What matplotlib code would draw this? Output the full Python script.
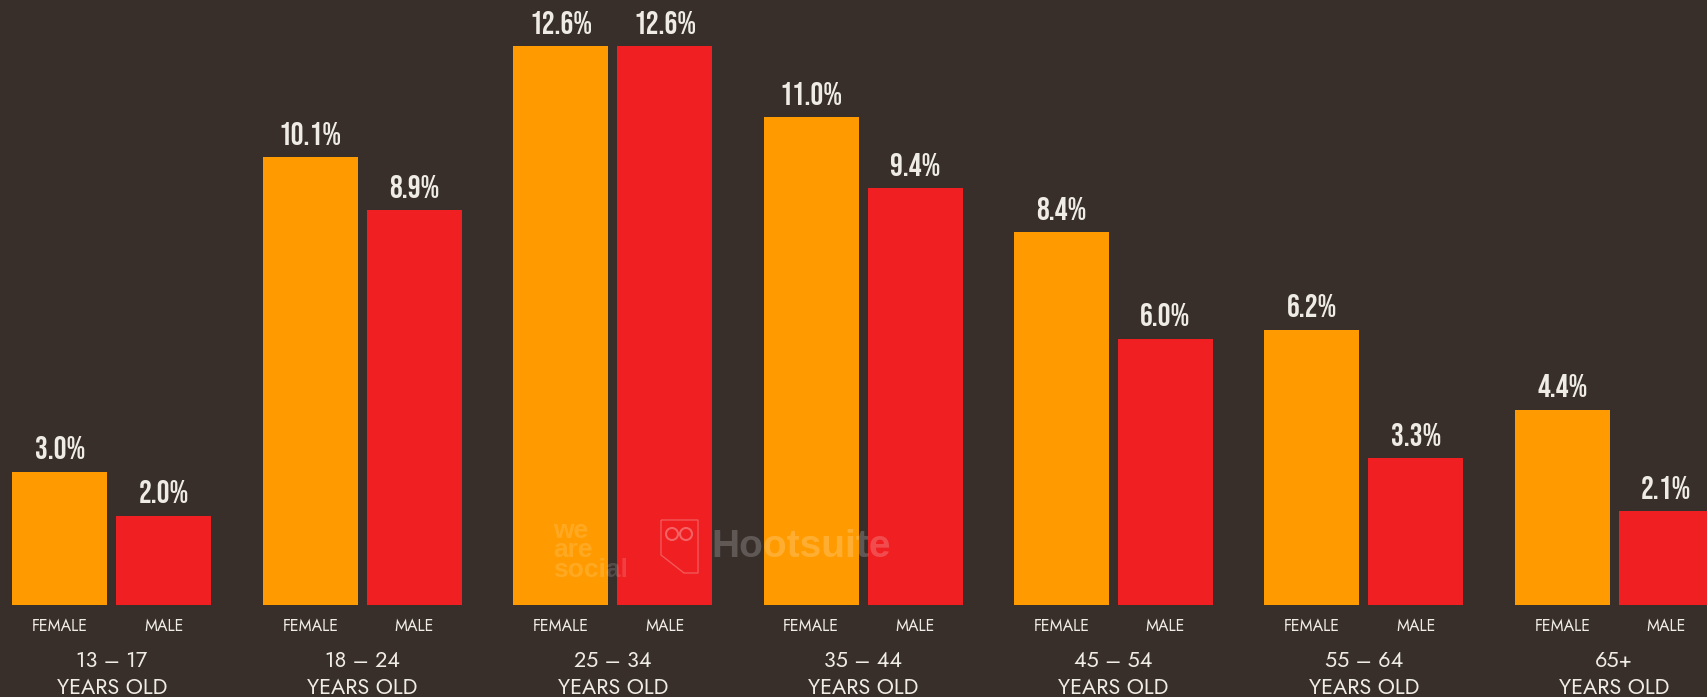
"""Age / gender bar chart on dark background, Hootsuite-style slide."""
import matplotlib
matplotlib.use("Agg")
import matplotlib.pyplot as plt
from matplotlib.patches import Circle, PathPatch
from matplotlib.path import Path
import numpy as np

age_groups = ["13 – 17", "18 – 24", "25 – 34", "35 – 44", "45 – 54", "55 – 64", "65+"]
female = [3.0, 10.1, 12.6, 11.0, 8.4, 6.2, 4.4]
male = [2.0, 8.9, 12.6, 9.4, 6.0, 3.3, 2.1]

BG = "#382f2b"
ORANGE = "#ff9b00"
RED = "#ef1f22"
TXT = "#efebe5"
LABEL_FONT = ["Jost", "Lato", "DejaVu Sans"]
VALUE_FONT = ["Bebas Neue", "Liberation Sans", "DejaVu Sans"]

W, H = 1707, 697
base_px = 604.5      # bar baseline, px from top
px_per_pct = 44.3
step_px = 250.4      # group spacing
first_px = 111.9     # centre of the first group
bar_w = 95 / step_px
off = 52 / step_px

fig = plt.figure(figsize=(W / 100, H / 100), dpi=100, facecolor=BG)
ax = fig.add_axes([0, (H - base_px) / H, 1, base_px / H], facecolor=BG)
x = np.arange(len(age_groups))

bars_f = ax.bar(x - off, female, bar_w, color=ORANGE)
bars_m = ax.bar(x + off, male, bar_w, color=RED)
for bars in (bars_f, bars_m):
    ax.bar_label(bars, fmt="%.1f%%", padding=9, fontsize=23, color=TXT,
                 family=VALUE_FONT, clip_on=False)

ax.set_xlim(-first_px / step_px, (W - first_px) / step_px)
ax.set_ylim(0, base_px / px_per_pct)
ax.set_yticks([])
ax.set_xticks(np.concatenate([x - off, x + off]))
ax.set_xticklabels(["FEMALE"] * len(x) + ["MALE"] * len(x), fontsize=11.5,
                   color=TXT, family=LABEL_FONT)
ax.tick_params(axis="x", length=0, pad=10)
for s in ax.spines.values():
    s.set_visible(False)

for xi, g in zip(x, age_groups):
    ax.annotate(f"{g}\nYEARS OLD", (xi, 0), xytext=(0, -33), textcoords="offset points",
                ha="center", va="top", fontsize=15.5, color=TXT, family=LABEL_FONT,
                linespacing=1.27, annotation_clip=False)

# faint watermark, placed in figure pixels
fig.text(553 / W, 1 - 519 / H, "we\nare\nsocial", fontsize=19, fontweight="bold", color="white",
         alpha=0.14, family="Liberation Sans", va="top", ha="left", linespacing=0.76)
fig.text(711 / W, 1 - 547 / H, "Hootsuite", fontsize=28, fontweight="bold", color="white",
         alpha=0.2, family="Liberation Sans", va="center", ha="left")
owl = [(661, 520), (698, 520), (698, 573), (684, 573), (661, 555), (661, 520)]
owl_xy = [(px / W, 1 - py / H) for px, py in owl]
fig.add_artist(PathPatch(Path(owl_xy), transform=fig.transFigure, fill=False,
                         edgecolor="white", alpha=0.25, lw=1))
for ex in (672, 686):
    fig.add_artist(Circle((ex, H - 534), 6, transform=None, fill=False,
                          edgecolor="white", alpha=0.3, lw=1.5))

fig.savefig("out.png", dpi=100, facecolor=BG)
